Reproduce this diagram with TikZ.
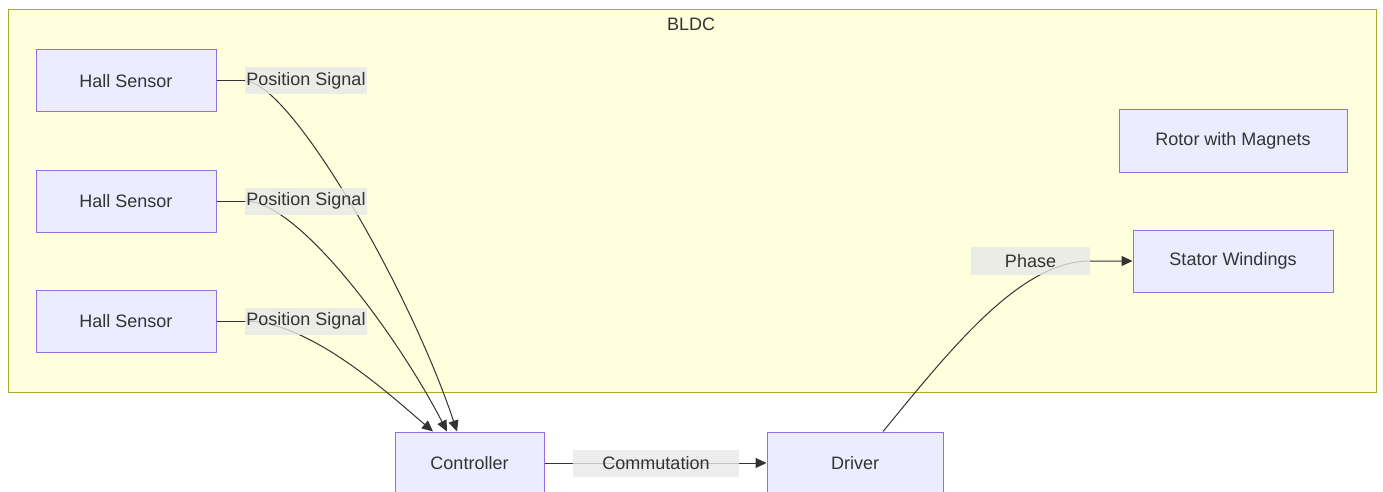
\documentclass[tikz,border=0pt]{standalone}
\usepackage{fontspec}
\setmainfont{Liberation Sans}
\usetikzlibrary{arrows.meta,calc}
\definecolor{boxfill}{HTML}{ECECFF}
\definecolor{boxline}{HTML}{9370DB}
\definecolor{groupfill}{HTML}{FFFFDE}
\definecolor{groupline}{HTML}{AAAA33}
\definecolor{ink}{HTML}{333333}
\definecolor{tagfill}{HTML}{E8E8E8}
\begin{document}
\begin{tikzpicture}[x=1pt,y=-1pt,
    block/.style={draw=boxline,fill=boxfill,line width=1pt,minimum height=62pt,text=ink,
      font=\fontsize{18}{21}\selectfont,inner sep=0pt},
    tag/.style={fill=tagfill,fill opacity=0.8,text opacity=1,text=ink,minimum height=27pt,
      font=\fontsize{18}{21}\selectfont,inner sep=0pt},
    wire/.style={draw=ink,line width=1pt},
    tip/.style={-{Triangle[length=11pt,width=10pt]}}]
    \useasboundingbox (0,0) rectangle (1383,492);
    \clip (0,0) rectangle (1383,492);
    \draw[groupline,fill=groupfill,line width=1pt] (8,10) rectangle (1376,392);
    \node (bldc) at (691,24) [text=ink,font=\fontsize{18}{21}\selectfont] {BLDC};
    \node (h1) at (126,81)  [block,minimum width=180pt] {Hall Sensor};
    \node (h2) at (126,201) [block,minimum width=180pt] {Hall Sensor};
    \node (h3) at (126,321) [block,minimum width=180pt] {Hall Sensor};
    \node (rot) at (1233,141) [block,minimum width=228pt] {Rotor with Magnets};
    \node (sta) at (1233,261) [block,minimum width=200pt] {Stator Windings};
    \node (ctl) at (469.5,463) [block,minimum width=149pt] {Controller};
    \node (drv) at (855,463)   [block,minimum width=176pt] {Driver};
    % edges
    \draw[wire] (h1.east) -- (245,81);
    \draw[wire,tip] (245,81) .. controls (290,81) and (410,290) .. ($(ctl.north)+(-12.5,0)$);
    \draw[wire] (h2.east) -- (245,201);
    \draw[wire,tip] (245,201) .. controls (300,201) and (400,340) .. ($(ctl.north)+(-22.5,0)$);
    \draw[wire] (h3.east) -- (245,321);
    \draw[wire,tip] (245,321) .. controls (310,321) and (390,395) .. ($(ctl.north)+(-36.5,0)$);
    \draw[wire,tip] (ctl.east) -- (drv.west);
    \draw[wire,tip] ($(drv.north)+(28,0)$) .. controls (950,350) and (1020,261) .. (1090,261) -- (sta.west);
    % labels
    \node (s1) at (306,81)  [tag,minimum width=122pt] {Position Signal};
    \node (s2) at (306,201) [tag,minimum width=122pt] {Position Signal};
    \node (s3) at (306,321) [tag,minimum width=122pt] {Position Signal};
    \node (com) at (656,463.5) [tag,minimum width=166pt] {Commutation};
    \node (ph) at (1030.5,261) [tag,minimum width=119pt,minimum height=28pt] {Phase};
\end{tikzpicture}
\end{document}
